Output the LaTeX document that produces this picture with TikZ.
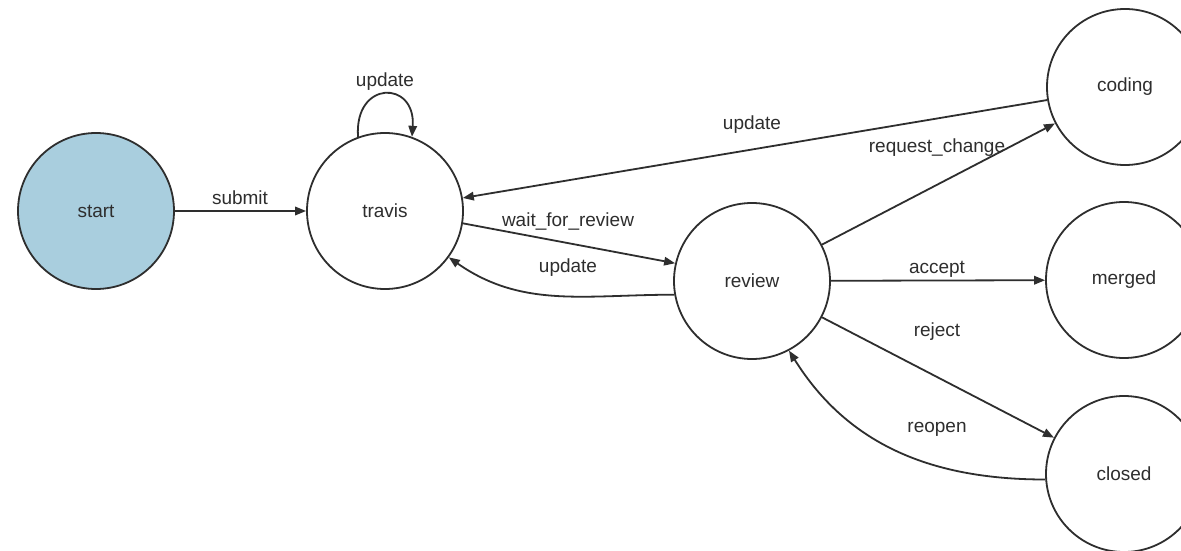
\documentclass[tikz,border=0pt]{standalone}
\usepackage{fontspec}
\setmainfont{Liberation Sans}
\usetikzlibrary{arrows.meta}
\definecolor{ink}{HTML}{2E2E2E}
\definecolor{startfill}{RGB}{169,206,222}
\tikzset{
  state/.style={circle, draw=ink, line width=1.8pt, fill=white,
    minimum size=156pt, inner sep=0pt, text=ink,
    font=\fontsize{19}{22}\selectfont},
  edge/.style={draw=ink, line width=1.8pt,
    -{Triangle[length=11pt,width=8.5pt]}},
  lbl/.style={text=ink, inner sep=1pt, font=\fontsize{19}{22}\selectfont}
}
\begin{document}
\begin{tikzpicture}[x=1pt,y=1pt]
  \useasboundingbox[fill=white] (0,0) rectangle (1181,550);

  % states
  \node[state, fill=startfill] (start)  at (96,339)  {start};
  \node[state] (travis) at (385,339) {travis};
  \node[state] (review) at (752,269) {review};
  \node[state] (coding) at (1125,463) {coding};
  \node[state] (merged) at (1124,270) {merged};
  \node[state] (closed) at (1124,76)  {closed};

  % transitions
  \draw[edge] (start) -- (travis);
  \draw[edge] (travis.110) .. controls +(-4,57) and +(4,57) .. (travis.70);
  \draw[edge] (coding) -- (travis);
  \draw[edge] (travis.-9) -- (review.167);
  \draw[edge] (review.190) to[out=180,in=-35] (travis.-36);
  \draw[edge] (review) -- (coding);
  \draw[edge] (review) -- (merged);
  \draw[edge] (review) -- (closed);
  \draw[edge] (closed.184) to[out=180,in=-58] (review.-62);

  % transition labels
  \node[lbl] (l-submit) at (240,352) {submit};
  \node[lbl] (l-loop)   at (385,468) {update};
  \node[lbl] (l-upd1)   at (752,425) {update};
  \node[lbl] (l-req)    at (937,402) {request\_change};
  \node[lbl] (l-wait)   at (568,328) {wait\_for\_review};
  \node[lbl] (l-upd2)   at (568,282) {update};
  \node[lbl] (l-acc)    at (937,281) {accept};
  \node[lbl] (l-rej)    at (937,218) {reject};
  \node[lbl] (l-reo)    at (937,121) {reopen};
\end{tikzpicture}
\end{document}
